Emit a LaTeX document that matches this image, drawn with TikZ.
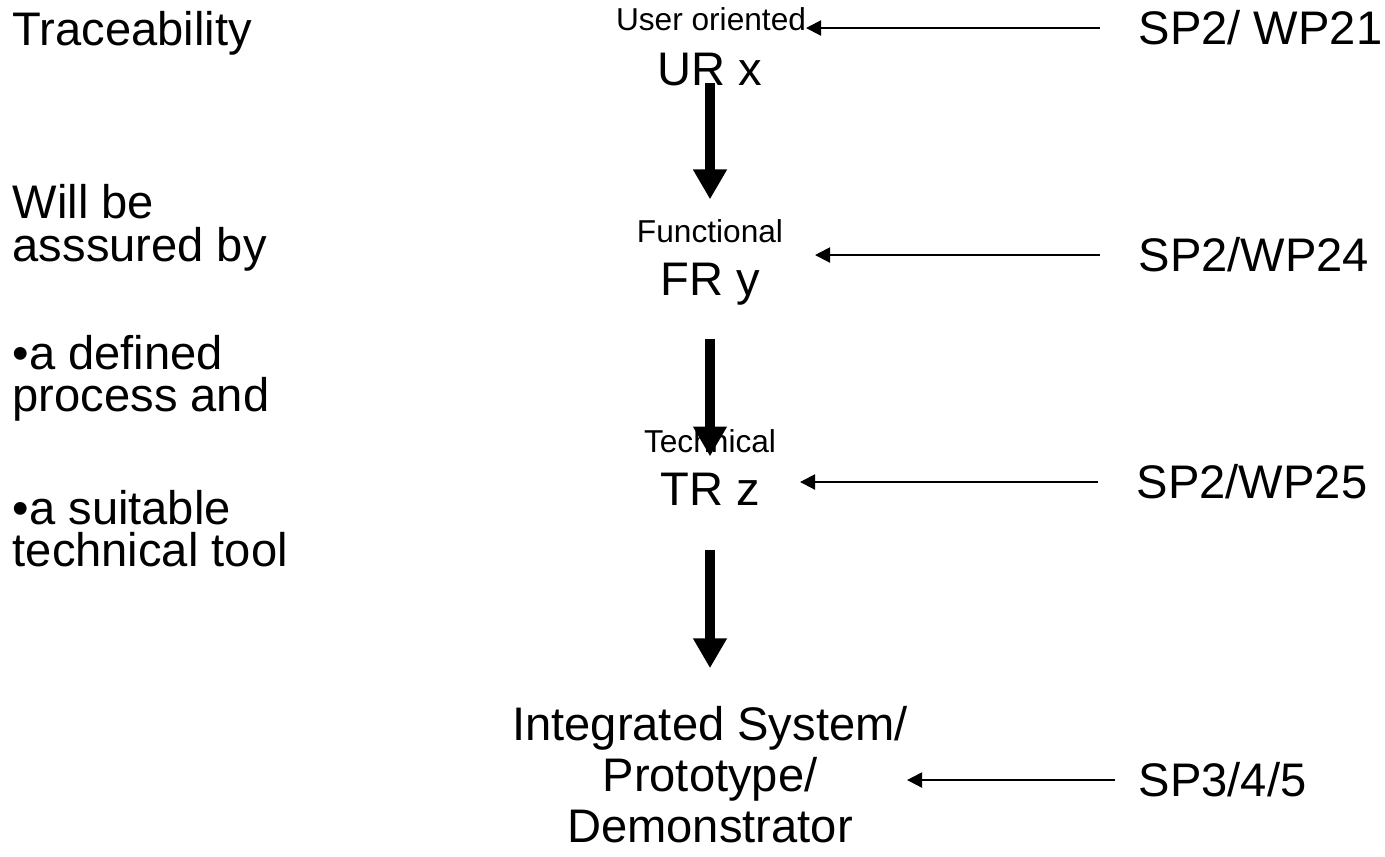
\documentclass[tikz,border=0pt]{standalone}
\usepackage{fontspec}
\setmainfont{Liberation Sans}
\usetikzlibrary{arrows.meta}
\begin{document}
\begin{tikzpicture}[x=0.01cm,y=-0.01cm,
        big/.style={font=\fontsize{13.4}{11.95}\selectfont,inner sep=0pt},
        small/.style={font=\fontsize{9}{10}\selectfont,inner sep=0pt},
        down/.style={line width=3.1pt,-{Triangle[length=8.5pt,width=9.1pt]}},
        feed/.style={line width=0.6pt,-{Triangle[length=4.3pt,width=4.3pt]},shorten <=0.38cm}]
        \useasboundingbox (0,0) rectangle (1385,856);

        % left column (base = last line)
        \node[big,anchor=base west] (trace) at (12,45) {Traceability};
        \node[big,anchor=base west,align=left] (assured) at (12,261) {Will be\\asssured by};
        \node[big,anchor=base west,align=left] (process) at (12,411) {•a defined\\process and};
        \node[big,anchor=base west,align=left] (tool) at (12,566) {•a suitable\\technical tool};

        % requirement chain
        \node[small,anchor=base] (userlbl) at (711,30) {User oriented};
        \node[big,anchor=base] (ur) at (710,85) {UR x};
        \node[small,anchor=base] (funclbl) at (710,242) {Functional};
        \node[big,anchor=base] (fr) at (710,295) {FR y};
        \node[small,anchor=base] (techlbl) at (710,452) {Technical};
        \node[big,anchor=base] (tr) at (710,505) {TR z};
        \node[big,anchor=base,align=center,font=\fontsize{13.4}{14.5}\selectfont] (integ) at (710,842) {Integrated System/\\Prototype/\\Demonstrator};

        \draw[down,shorten <=-0.03cm,shorten >=0.19cm] (ur) -- (funclbl);
        \draw[down,shorten <=0.33cm,shorten >=-0.28cm] (fr) -- (techlbl);
        \draw[down,shorten <=0.44cm,shorten >=0.37cm] (tr) -- (integ);

        % sources
        \node[big,anchor=west] (sp21) at (1138,28) {SP2/ WP21};
        \node[big,anchor=west] (sp24) at (1138,255) {SP2/WP24};
        \node[big,anchor=west] (sp25) at (1136,482) {SP2/WP25};
        \node[big,anchor=west] (sp345) at (1138,780) {SP3/4/5};

        \coordinate (in21) at (806,28);
        \coordinate (in24) at (815,255);
        \coordinate (in25) at (800,482);
        \coordinate (in345) at (907,780);

        \draw[feed] (sp21.west) -- (in21);
        \draw[feed] (sp24.west) -- (in24);
        \draw[feed] (sp25.west) -- (in25);
        \draw[feed,shorten <=0.23cm] (sp345.west) -- (in345);
    \end{tikzpicture}
\end{document}
